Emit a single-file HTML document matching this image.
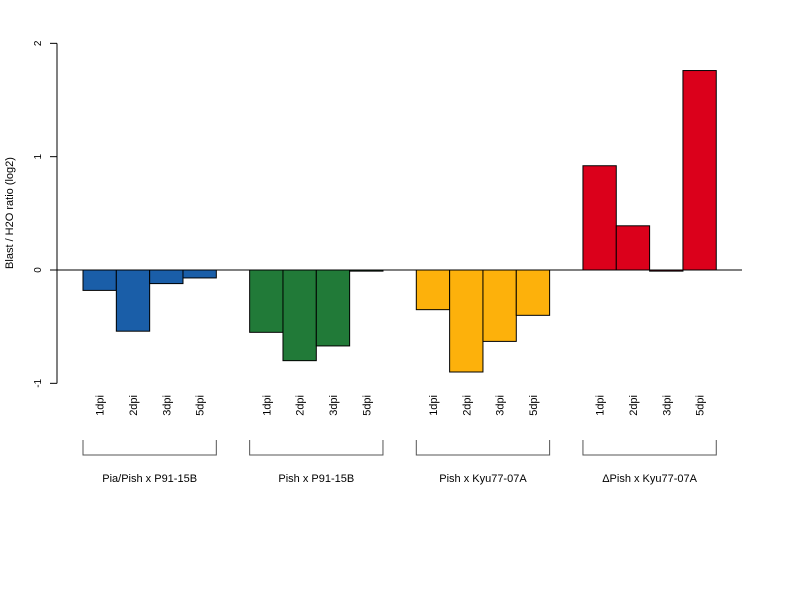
<!DOCTYPE html>
<html><head><meta charset="utf-8"><style>
body{margin:0;background:#fff}
svg text{font-family:"Liberation Sans",sans-serif;fill:#000}
</style></head><body>
<svg id="c" width="800" height="600" xmlns="http://www.w3.org/2000/svg"></svg>
<script>
const groups = ["Pia/Pish x P91-15B","Pish x P91-15B","Pish x Kyu77-07A","\u0394Pish x Kyu77-07A"];
const days = ["1dpi","2dpi","3dpi","5dpi"];
const colors = ["#1a5ea8","#217a38","#fdb10b","#db001b"];
const vals0 = [-0.18,-0.54,-0.12,-0.07];
const vals1 = [-0.55,-0.80,-0.67,-0.01];
const vals2 = [-0.35,-0.90,-0.63,-0.40];
const vals3 = [0.92,0.39,-0.01,1.76];
const series = [vals0,vals1,vals2,vals3];
const yTicks = [-1,0,1,2];

const NS="http://www.w3.org/2000/svg", svg=document.getElementById('c');
const y = v => 270 - v*113.33;
const bw = 33.33;
const xs = slot => 83 + slot*bw;
function mk(t,a){const e=document.createElementNS(NS,t);for(const k in a)e.setAttribute(k,a[k]);svg.appendChild(e);return e;}

// y axis
let ax=mk('line',{x1:57,x2:57,y1:y(2),y2:y(-1),stroke:'#000'});


yTicks.forEach(t=>{
  const l=mk('line',{x1:50,x2:57,y1:y(t),y2:y(t),stroke:'#000'});
  
  
  const tx=mk('text',{x:41,y:y(t),'font-size':10,'text-anchor':'middle',transform:`rotate(-90 41 ${y(t)})`});
  tx.textContent=t;
  
  
});
const yt=mk('text',{x:13,y:213,'font-size':11,'text-anchor':'middle',transform:'rotate(-90 13 213)'});
yt.textContent='Blast / H2O ratio (log2)';



series.forEach((vals,g)=>{
  vals.forEach((v,i)=>{
    const slot=g*5+i, x=xs(slot);
    const r=mk('rect',{x:x,y:Math.min(y(v),y(0)),width:bw,height:Math.max(Math.abs(y(v)-y(0)),0.5),fill:colors[g],stroke:'#000','stroke-width':1});
    
    
    const cx=x+bw/2+4;
    const t=mk('text',{x:cx,y:395,'font-size':11,'text-anchor':'end',transform:`rotate(-90 ${cx} 395)`});
    t.textContent=days[i];
    
    
  });
  const x0=xs(g*5), x1=xs(g*5+4);
  const b=mk('path',{d:`M${x0} 440V455H${x1}V440`,fill:'none',stroke:'#555'});
  
  
  const gl=mk('text',{x:(x0+x1)/2,y:482,'font-size':11,'text-anchor':'middle'});
  gl.textContent=groups[g];
  
  
});
const zl=mk('line',{x1:57,x2:742,y1:y(0),y2:y(0),stroke:'#000'});


</script>
</body></html>
